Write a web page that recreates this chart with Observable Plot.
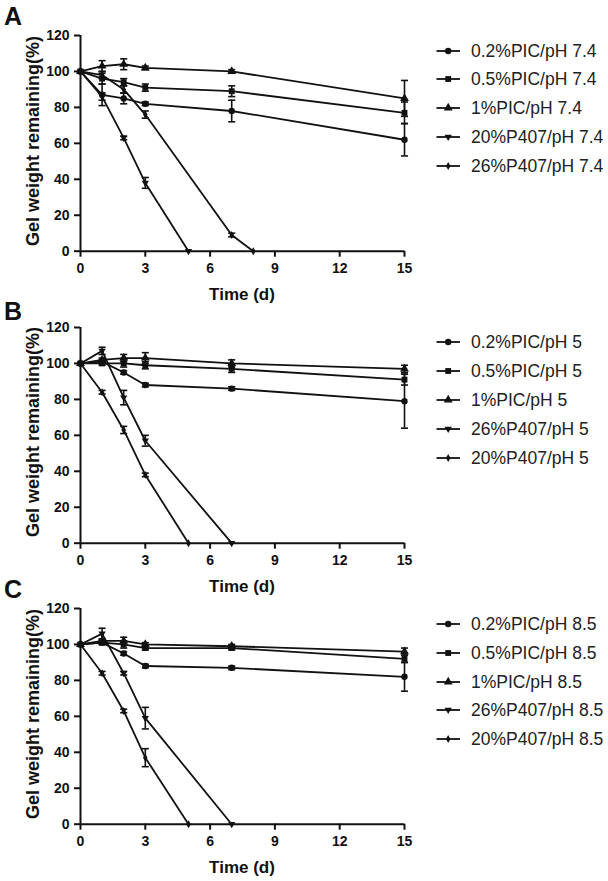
<!DOCTYPE html>
<html><head><meta charset="utf-8">
<script src="https://cdn.jsdelivr.net/npm/d3@7"></script>
<script src="https://cdn.jsdelivr.net/npm/@observablehq/plot@0.6"></script>
<style>
body{margin:0;background:#fff;}
#root{position:relative;width:608px;height:881px;overflow:hidden;font-family:"Liberation Sans",Arial,sans-serif;color:#111;background:#fff;}
.panel{position:absolute;left:0;width:608px;height:300px;}
.panel svg.chart{position:absolute;left:0;top:0;}
.letter{position:absolute;font-size:25px;line-height:25px;font-weight:bold;}
.ylab{position:absolute;font-size:18px;line-height:18px;font-weight:bold;white-space:nowrap;transform:translate(-50%,-50%) rotate(-90deg);}
.xlab{position:absolute;font-size:17px;line-height:17px;font-weight:bold;white-space:nowrap;transform:translateX(-50%);}
.lrow{position:absolute;left:434px;height:18px;white-space:nowrap;}
.lrow svg{position:absolute;left:0;top:0;}
.lrow span{position:absolute;left:37px;top:0;font-size:17.5px;line-height:18px;color:#222;}
#root g[aria-label$="tick"] path{stroke-width:2px;}
</style>
</head><body><div id="root"></div>
<script>
// ---- data ----
const xTicks = [0, 3, 6, 9, 12, 15];
const yTicks = [0, 20, 40, 60, 80, 100, 120];
const daysPIC = [0, 1, 2, 3, 7, 15];

// Panel A (pH 7.4)
const labelsA = ["0.2%PIC/pH 7.4", "0.5%PIC/pH 7.4", "1%PIC/pH 7.4", "20%P407/pH 7.4", "26%P407/pH 7.4"];
const A_pic02 = [100, 87, 85, 82, 78, 62];
const A_pic02_err = [0, 6, 3, 1, 6, 9];
const A_pic05 = [100, 96, 94, 91, 89, 77];
const A_pic05_err = [0, 3, 2, 2, 3, 6];
const A_pic1 = [100, 103, 104, 102, 100, 85];
const A_pic1_err = [0, 3, 3, 1, 1, 10];
const A_p20_days = [0, 1, 2, 3, 5];
const A_p20 = [100, 86, 63, 38, 0];
const A_p20_err = [0, 2, 1, 3, 0];
const A_p26_days = [0, 1, 2, 3, 7, 8];
const A_p26 = [100, 98, 90, 76, 9, 0];
const A_p26_err = [0, 2, 2, 2, 1, 0];

// Panel B (pH 5)
const labelsB = ["0.2%PIC/pH 5", "0.5%PIC/pH 5", "1%PIC/pH 5", "26%P407/pH 5", "20%P407/pH 5"];
const B_pic02 = [100, 101, 95, 88, 86, 79];
const B_pic02_err = [0, 1, 1, 1, 1, 15];
const B_pic05 = [100, 100, 100, 99, 97, 91];
const B_pic05_err = [0, 1, 2, 2, 2, 3];
const B_pic1 = [100, 102, 103, 103, 100, 97];
const B_pic1_err = [0, 1, 2, 3, 2, 2];
const B_p26_days = [0, 1, 2, 3, 7];
const B_p26 = [100, 107, 81, 57, 0];
const B_p26_err = [0, 2, 4, 3, 0];
const B_p20_days = [0, 1, 2, 3, 5];
const B_p20 = [100, 84, 63, 38, 0];
const B_p20_err = [0, 1, 2, 1, 0];

// Panel C (pH 8.5)
const labelsC = ["0.2%PIC/pH 8.5", "0.5%PIC/pH 8.5", "1%PIC/pH 8.5", "26%P407/pH 8.5", "20%P407/pH 8.5"];
const C_pic02 = [100, 101, 95, 88, 87, 82];
const C_pic02_err = [0, 1, 1, 1, 1, 8];
const C_pic05 = [100, 101, 100, 98, 98, 92];
const C_pic05_err = [0, 1, 2, 1, 1, 2];
const C_pic1 = [100, 102, 102, 100, 99, 96];
const C_pic1_err = [0, 1, 2, 1, 1, 2];
const C_p26_days = [0, 1, 2, 3, 7];
const C_p26 = [100, 106, 84, 59, 0];
const C_p26_err = [0, 3, 1, 6, 0];
const C_p20_days = [0, 1, 2, 3, 5];
const C_p20 = [100, 84, 63, 37, 0];
const C_p20_err = [0, 1, 1, 5, 0];

// ---- symbols ----
const triDown = {draw(ctx, size) {
  const a = Math.sqrt(size) * 0.62;
  ctx.moveTo(-a, -a * 0.6); ctx.lineTo(a, -a * 0.6); ctx.lineTo(0, a * 1.1); ctx.closePath();
}};
const cap = {draw(ctx, size) {
  const w = Math.sqrt(size) / 2;
  ctx.moveTo(-w, 0); ctx.lineTo(w, 0);
}};
const symbols = [d3.symbolCircle, d3.symbolSquare, d3.symbolTriangle, triDown, d3.symbolDiamond];
const symR = [3.2, 3.3, 3.3, 3.3, 2.4];

function rows(days, vals, errs) {
  return days.map((d, i) => ({day: d, value: vals[i], err: errs[i]}));
}

const panels = [
  {letter: "A", top: 0, labels: labelsA, series: [
    rows(daysPIC, A_pic02, A_pic02_err), rows(daysPIC, A_pic05, A_pic05_err), rows(daysPIC, A_pic1, A_pic1_err),
    rows(A_p20_days, A_p20, A_p20_err), rows(A_p26_days, A_p26, A_p26_err)]},
  {letter: "B", top: 291.7, labels: labelsB, series: [
    rows(daysPIC, B_pic02, B_pic02_err), rows(daysPIC, B_pic05, B_pic05_err), rows(daysPIC, B_pic1, B_pic1_err),
    rows(B_p26_days, B_p26, B_p26_err), rows(B_p20_days, B_p20, B_p20_err)]},
  {letter: "C", top: 573.3, labels: labelsC, series: [
    rows(daysPIC, C_pic02, C_pic02_err), rows(daysPIC, C_pic05, C_pic05_err), rows(daysPIC, C_pic1, C_pic1_err),
    rows(C_p26_days, C_p26, C_p26_err), rows(C_p20_days, C_p20, C_p20_err)]}
];

const ink = "#111";
const root = document.getElementById("root");

panels.forEach(p => {
  const div = document.createElement("div");
  div.className = "panel";
  div.style.top = p.top + "px";
  root.appendChild(div);

  const marks = [];
  p.series.forEach(s => marks.push(Plot.line(s, {x: "day", y: "value", stroke: ink, strokeWidth: 1.8})));
  p.series.forEach((s, k) => {
    const eb = s.filter(d => d.err > 0);
    marks.push(Plot.ruleX(eb, {x: "day", y1: d => d.value - d.err, y2: d => d.value + d.err, stroke: ink, strokeWidth: 1.6}));
    marks.push(Plot.dot(eb, {x: "day", y: d => d.value + d.err, symbol: cap, r: 4, fill: "none", stroke: ink, strokeWidth: 1.6}));
    marks.push(Plot.dot(eb, {x: "day", y: d => d.value - d.err, symbol: cap, r: 4, fill: "none", stroke: ink, strokeWidth: 1.6}));
    marks.push(Plot.dot(s, {x: "day", y: "value", symbol: symbols[k], r: symR[k], fill: ink, stroke: "none"}));
  });
  marks.push(Plot.ruleX([0], {y1: 0, y2: 120, stroke: ink, strokeWidth: 2}));
  marks.push(Plot.ruleY([0], {x1: 0, x2: 15, stroke: ink, strokeWidth: 2}));
  marks.push(Plot.axisY({ticks: yTicks, tickSize: 6, tickPadding: 5, label: null, stroke: ink, fill: ink}));
  marks.push(Plot.axisX({ticks: xTicks, tickSize: 6, tickPadding: 6, label: null, stroke: ink, fill: ink}));

  const svg = Plot.plot({
    width: 608, height: 300,
    marginLeft: 80, marginRight: 204, marginTop: 35, marginBottom: 49.3,
    x: {domain: [0, 15]}, y: {domain: [0, 120]},
    style: {background: "none", overflow: "visible", fontFamily: "'Liberation Sans', Arial, sans-serif", fontSize: "14px", fontWeight: "bold", color: ink},
    marks
  });
  svg.classList.add("chart");
  div.appendChild(svg);

  const L = document.createElement("div");
  L.className = "letter"; L.textContent = p.letter;
  L.style.left = "4px"; L.style.top = (p.letter === "A" ? 3.7 : p.letter === "B" ? 7 : 4) + "px";
  div.appendChild(L);

  const yl = document.createElement("div");
  yl.className = "ylab"; yl.textContent = "Gel weight remaining(%)";
  yl.style.left = "33.3px"; yl.style.top = "140.5px";
  div.appendChild(yl);

  const xl = document.createElement("div");
  xl.className = "xlab"; xl.textContent = "Time (d)";
  xl.style.left = "242px"; xl.style.top = "286px";
  div.appendChild(xl);

  p.labels.forEach((lab, k) => {
    const row = document.createElement("div");
    row.className = "lrow";
    row.style.top = (50.5 + k * 28.9 - 9) + "px";
    const path = d3.symbol().type(symbols[k]).size(Math.PI * symR[k] * symR[k])();
    row.innerHTML = `<svg width="30" height="18"><line x1="2.5" x2="26" y1="9" y2="9" stroke="${ink}" stroke-width="1.8"/><path transform="translate(14.2,9)" d="${path}" fill="${ink}"/></svg><span>${lab}</span>`;
    div.appendChild(row);
  });
});
</script>
</body></html>
